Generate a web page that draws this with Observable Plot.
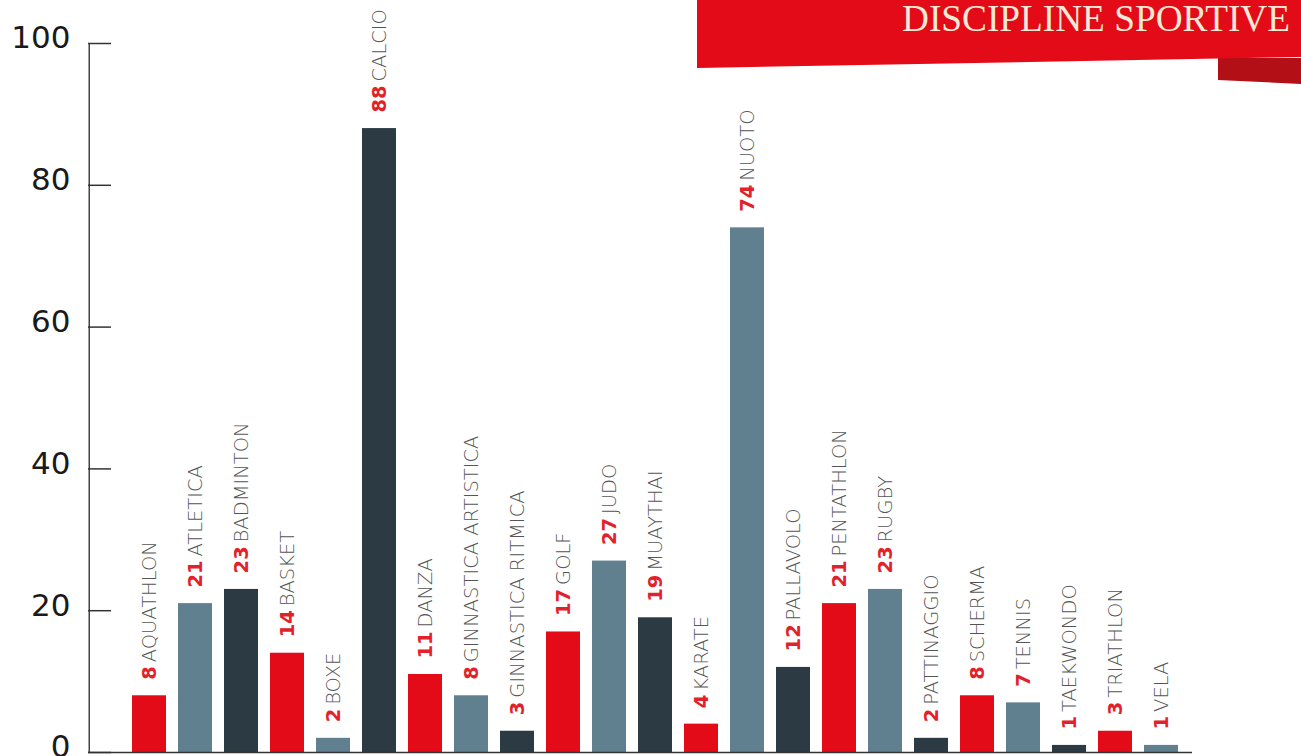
<!DOCTYPE html>
<html>
<head>
<meta charset="utf-8">
<script src="https://cdn.jsdelivr.net/npm/d3@7"></script>
<script src="https://cdn.jsdelivr.net/npm/@observablehq/plot@0.6"></script>
<style>
  html, body { margin: 0; padding: 0; background: #fff; }
  #wrap { position: relative; width: 1301px; height: 756px; overflow: hidden; }
  #banner { position: absolute; left: 0; top: 0; }
</style>
</head>
<body>
<div id="wrap">
  <div id="chart"></div>
  <svg id="banner" width="1301" height="100" viewBox="0 0 1301 100">
    <polygon points="1218,58 1301,58 1301,84 1218,80" fill="#b20f17"></polygon>
    <polygon points="697,0 1301,0 1301,57 697,68" fill="#e30b17"></polygon>
    <text x="1290" y="31" text-anchor="end" font-family="Liberation Serif" font-size="38" textLength="388" lengthAdjust="spacingAndGlyphs" fill="#f7e9d6">DISCIPLINE SPORTIVE</text>
  </svg>
</div>
<script>
const sports = ["AQUATHLON","ATLETICA","BADMINTON","BASKET","BOXE","CALCIO","DANZA","GINNASTICA ARTISTICA","GINNASTICA RITMICA","GOLF","JUDO","MUAYTHAI","KARATE","NUOTO","PALLAVOLO","PENTATHLON","RUGBY","PATTINAGGIO","SCHERMA","TENNIS","TAEKWONDO","TRIATHLON","VELA"];
const counts = [8,21,23,14,2,88,11,8,3,17,27,19,4,74,12,21,23,2,8,7,1,3,1];
const palette = ["#e30b17","#60808f","#2c3b43"];
const yTicks = [0,20,40,60,80,100];

const data = sports.map((name, i) => ({name, value: counts[i], color: palette[i % 3]}));

const W = 1301, H = 756, mL = 88, mR = 109, mT = 43, mB = 4;
const frameW = W - mL - mR;
const labelFont = "DejaVu Sans";
const numSize = 19.5, nameSize = 19.5;
const numW = 13.5, gap = 4, lift = 16;

const nameMark = (digits) => Plot.text(data.filter(d => String(d.value).length === digits), {
  x: "name", y: "value", text: "name", rotate: -90, textAnchor: "start",
  dy: -(lift + digits * numW + gap), fill: "#555555", fontSize: nameSize, fontFamily: labelFont, fontWeight: 300
});

const chart = Plot.plot({
  width: W, height: H,
  marginLeft: mL, marginRight: mR, marginTop: mT, marginBottom: mB,
  style: {fontFamily: labelFont, background: "transparent"},
  x: {type: "band", domain: sports, range: [130, 1180], paddingInner: 0.26, paddingOuter: 0, axis: null},
  y: {domain: [0, 100], axis: null, label: null},
  marks: [
    Plot.barY(data, {x: "name", y: "value", fill: "color"}),
    Plot.ruleY([0], {stroke: "#333", strokeWidth: 1.5}),
    Plot.frame({insetRight: frameW - 1.5, fill: "#444", stroke: "none"}),
    Plot.tickY(yTicks, {y: d => d, insetRight: frameW - 23, stroke: "#333", strokeWidth: 1.5}),
    Plot.axisY({ticks: yTicks, tickSize: 0, tickPadding: 18, label: null, fontSize: 31, fontFamily: "DejaVu Sans", fill: "#1a1a1a", dy: -5}),
    Plot.text(data, {x: "name", y: "value", text: d => String(d.value), rotate: -90, textAnchor: "start",
      dy: -lift, fill: "#e2222a", fontSize: numSize, fontWeight: "bold", fontFamily: labelFont}),
    nameMark(1),
    nameMark(2)
  ]
});
document.getElementById("chart").appendChild(chart);
</script>
</body>
</html>
